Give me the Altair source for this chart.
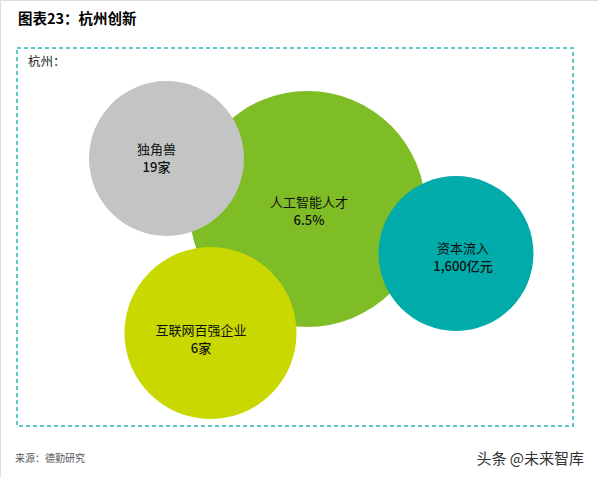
import altair as alt
import pandas as pd

# Data
labels = ["人工智能人才", "独角兽", "互联网百强企业", "资本流入"]
values = ["6.5%", "19家", "6家", "1,600亿元"]
bubble_x = [307.5, 166.5, 210.5, 456.0]
bubble_y = [209.0, 158.5, 333.0, 253.5]
bubble_r = [118.0, 77.5, 86.0, 77.5]
text_x = [309.0, 156.5, 201.0, 463.0]
text_y = [212.0, 158.5, 339.5, 258.0]
colors = ["#7FBD26", "#C3C4C4", "#C9D800", "#00ABA9"]

W, H = 598, 477
df = pd.DataFrame({
    "label": labels,
    "value": values,
    "x": bubble_x,
    "y": bubble_y,
    "tx": text_x,
    "ty": text_y,
    "area": [(2 * r) ** 2 for r in bubble_r],
    "color": colors,
    "order": list(range(len(labels))),
})

xs = alt.Scale(domain=[0, W], range=[0, W])
ys = alt.Scale(domain=[0, H], range=[0, H])

base = alt.Chart(df)

bubbles = base.mark_circle(opacity=1).encode(
    x=alt.X("x:Q", scale=xs, axis=None),
    y=alt.Y("y:Q", scale=ys, axis=None),
    size=alt.Size("area:Q", scale=None, legend=None),
    color=alt.Color("color:N", scale=None),
    order=alt.Order("order:Q"),
)

font = "Noto Sans CJK SC"
label_text = base.mark_text(font=font, fontSize=13, color="#111", dy=-9).encode(
    x=alt.X("tx:Q", scale=xs, axis=None),
    y=alt.Y("ty:Q", scale=ys, axis=None),
    text="label:N",
)
value_text = base.mark_text(font=font, fontSize=13, fontWeight=500, color="#111", dy=9).encode(
    x=alt.X("tx:Q", scale=xs, axis=None),
    y=alt.Y("ty:Q", scale=ys, axis=None),
    text="value:N",
)

box = alt.Chart(pd.DataFrame({"a": [0]})).mark_rect(
    fill=None, fillOpacity=0, stroke="#2DB7B1", strokeWidth=1.5, strokeDash=[4, 3]
).encode(x=alt.value(17), x2=alt.value(573), y=alt.value(48), y2=alt.value(426))

def txt(s, x, y, size, weight="normal", color="#000", align="left"):
    return alt.Chart(pd.DataFrame({"t": [s]})).mark_text(
        font=font, fontSize=size, fontWeight=weight, color=color, align=align, baseline="middle"
    ).encode(x=alt.value(x), y=alt.value(y), text="t:N")

title = txt("图表23：杭州创新", 18, 20, 14.5, "bold", "#000")
sub = txt("杭州：", 28, 62, 12.5, "normal", "#222")
src = txt("来源：德勤研究", 15, 459, 10, "normal", "#555")
wm = txt("头条 @未来智库", 584, 459, 15, "normal", "#333", "right")

chart = alt.layer(box, bubbles, label_text, value_text, title, sub, src, wm).properties(
    width=W, height=H, padding=0, autosize="none"
).configure_view(stroke=None).configure(background="white")

chart.save("out.html", embed_options={"renderer": "svg", "actions": False})
